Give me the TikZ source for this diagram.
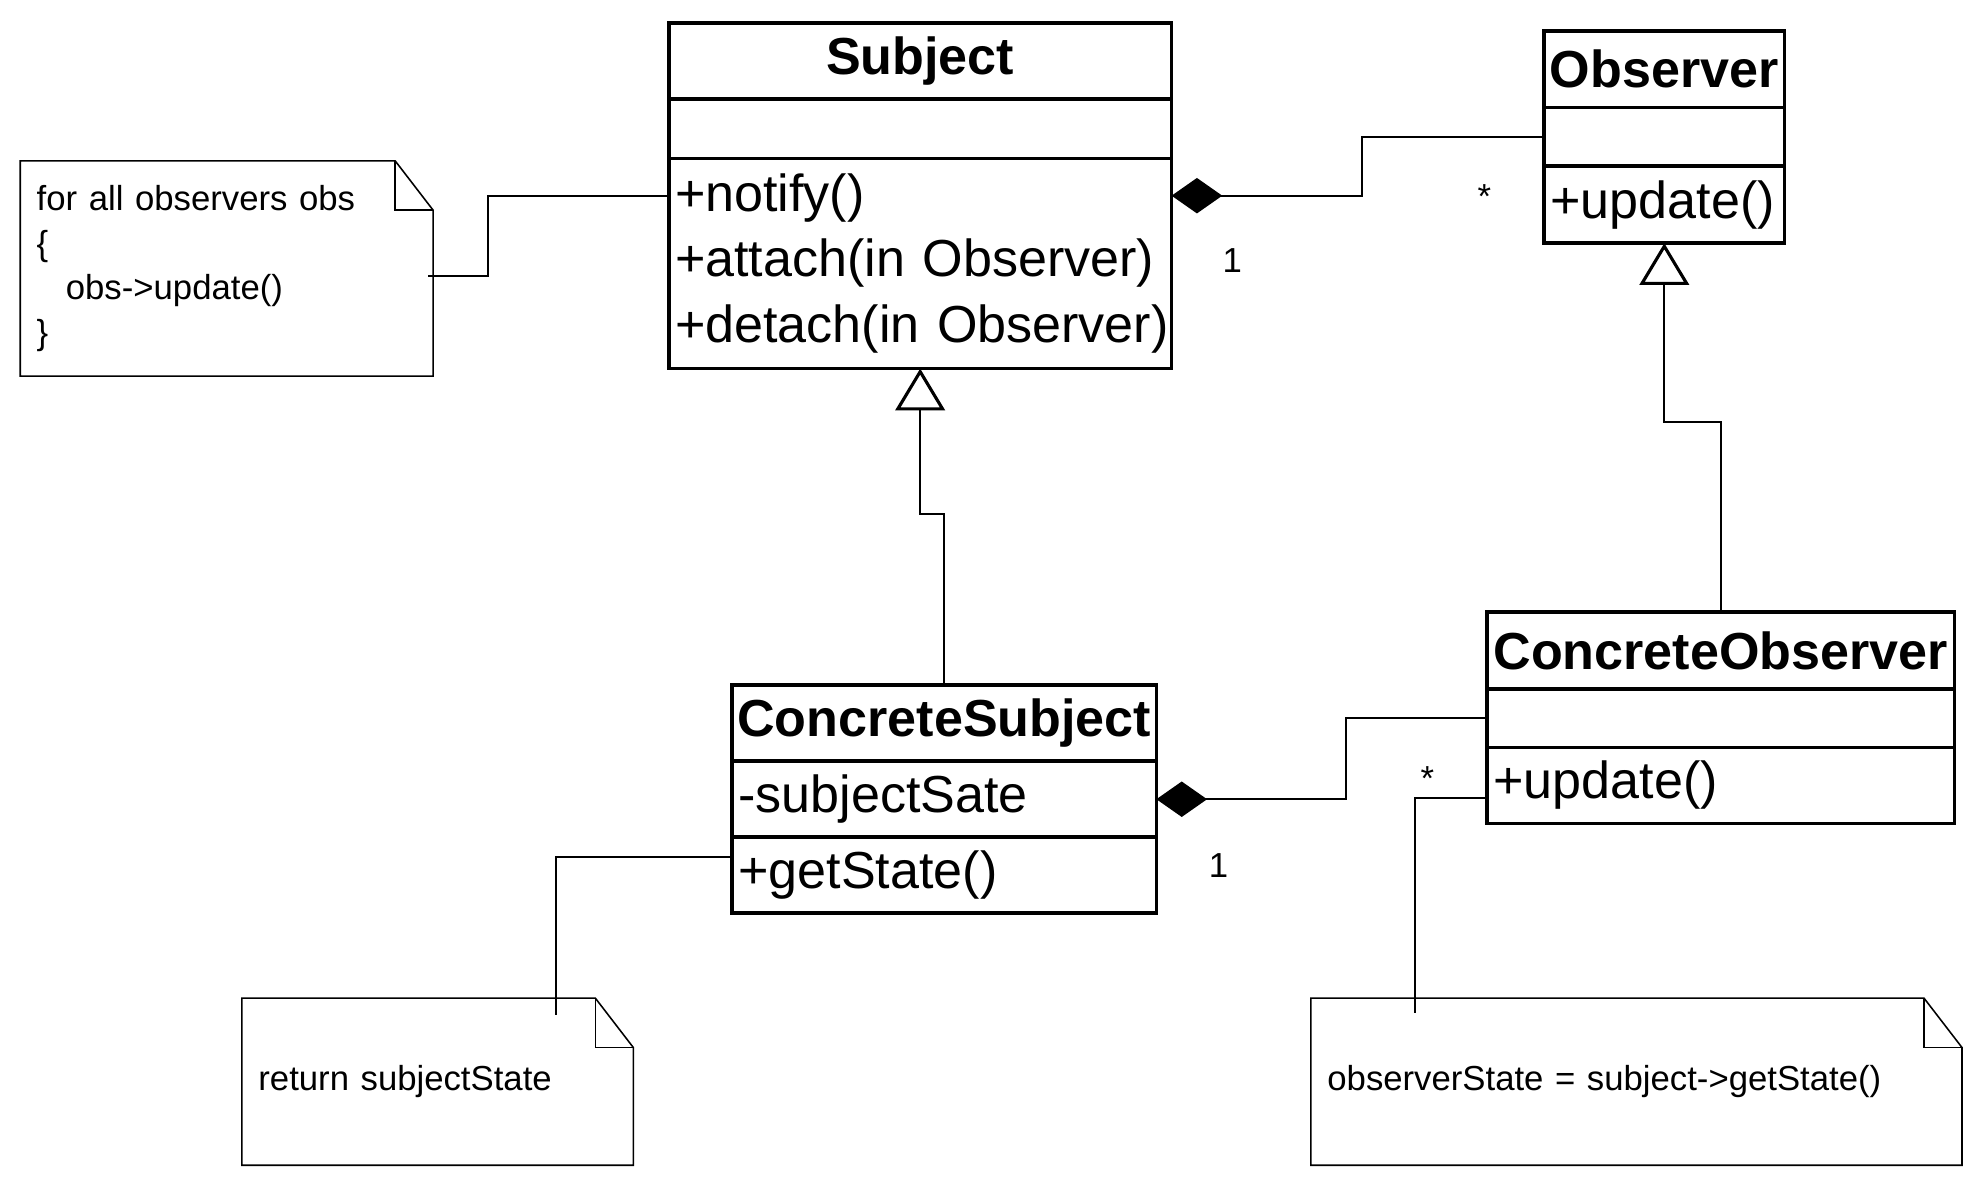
\documentclass[tikz,border=0pt]{standalone}
\usepackage{fontspec}
\setmainfont{Liberation Sans}
\usepackage{tikz}
\usetikzlibrary{arrows.meta,positioning,calc}
\tikzset{
  cls/.style={draw,line width=0.8pt,anchor=north west,inner sep=0pt,outer sep=0pt,font=\fontsize{11.7pt}{14.8pt}\selectfont},
  chead/.style={cls,font=\fontsize{11.7pt}{14.8pt}\selectfont\bfseries},
  cmem/.style={cls,align=left,inner xsep=0.05cm},
  notebox/.style={anchor=north west,inner xsep=0.13cm,inner ysep=0pt,outer sep=0pt,align=left,font=\fontsize{7.8pt}{10pt}\selectfont},
  noteline/.style={line width=0.35pt},
  link/.style={line width=0.45pt},
  compo/.style={link,{Diamond[length=0.40cm,width=0.28cm]}-},
  inherit/.style={link,-{Triangle[open,length=0.33cm,width=0.39cm,line width=0.7pt]}},
  mult/.style={font=\fontsize{7.8pt}{10pt}\selectfont,inner sep=0pt},
}
\begin{document}
\begin{tikzpicture}[x=1cm,y=1cm]
  \useasboundingbox (0,0) rectangle (15.68,-9.38);
  % classes
  \node[chead,minimum width=3.97cm,minimum height=0.60cm] (subjt) at (5.28,-0.18) {Subject};
  \node[cmem,minimum width=3.97cm,minimum height=0.47cm] (subja) at (subjt.south west) {};
  \node[cmem,text width=3.87cm,minimum height=1.66cm] (subjm) at (subja.south west) {+notify()\\\mbox{+attach(in Observer)}\\\mbox{+detach(in Observer)}};
  \node[chead,minimum width=1.90cm,minimum height=0.605cm] (obst) at (12.19,-0.245) {Observer};
  \node[cmem,minimum width=1.90cm,minimum height=0.46cm] (obsa) at (obst.south west) {};
  \node[cmem,text width=1.80cm,minimum height=0.61cm] (obsm) at (obsa.south west) {\mbox{+update()}};
  \node[chead,minimum width=3.35cm,minimum height=0.60cm] (cst) at (5.78,-5.41) {ConcreteSubject};
  \node[cmem,text width=3.25cm,minimum height=0.60cm] (csa) at (cst.south west) {-subjectSate};
  \node[cmem,text width=3.25cm,minimum height=0.60cm] (csm) at (csa.south west) {+getState()};
  \node[chead,minimum width=3.69cm,minimum height=0.61cm] (cot) at (11.74,-4.83) {ConcreteObserver};
  \node[cmem,minimum width=3.69cm,minimum height=0.46cm] (coa) at (cot.south west) {};
  \node[cmem,text width=3.59cm,minimum height=0.60cm] (com) at (coa.south west) {+update()};
  % notes
  \node[notebox,minimum width=3.26cm,minimum height=1.70cm,text width=3.00cm] (n1) at (0.16,-1.27) {for all observers obs\\\{\\\hspace*{0.23cm}obs->update()\\\}};
  \node[notebox,minimum width=3.09cm,minimum height=1.32cm,text width=2.83cm] (n2) at (1.91,-7.88) {return subjectState};
  \node[notebox,minimum width=5.14cm,minimum height=1.32cm,text width=4.88cm] (n3) at (10.35,-7.88) {observerState = subject->getState()};
  \foreach \n in {n1,n2,n3}{
    \draw[noteline] (\n.north west) -- ($(\n.north east)+(-0.30,0)$) -- ($(\n.north east)+(0,-0.39)$) -- (\n.south east) -- (\n.south west) -- cycle;
    \draw[noteline] ($(\n.north east)+(-0.30,0)$) |- ($(\n.north east)+(0,-0.39)$);
  }
  % connectors
  \coordinate (n1p) at ($(n1.east)+(-0.04,-0.06)$);
  \coordinate (notifyp) at ($(subjm.north west)+(0,-0.30)$);
  \draw[link] (n1p) -- ++(0.47,0) |- (notifyp);
  \coordinate (subjd) at ($(subjm.north east)+(0,-0.295)$);
  \draw[compo] (subjd) -- ++(1.50,0) |- (obsa.west);
  \draw[inherit] (cst.north) -- ++(0,1.35) -| (subjm.south);
  \draw[inherit] (cot.north) -- ++(0,1.50) -| (obsm.south);
  \draw[compo] (csa.east) -- ++(1.50,0) |- (coa.west);
  \coordinate (getp) at ($(csm.north west)+(0,-0.16)$);
  \coordinate (n2p) at ($(n2.north west)+(2.48,-0.13)$);
  \draw[link] (getp) -| (n2p);
  \coordinate (updp) at ($(com.north west)+(0,-0.40)$);
  \coordinate (n3p) at ($(n3.north west)+(0.82,-0.12)$);
  \draw[link] (updp) -| (n3p);
  % multiplicities
  \node[mult] (m1) at (11.72,-1.55) {*};
  \node[mult] (m2) at (9.73,-2.06) {1};
  \node[mult] (m3) at (9.62,-6.83) {1};
  \node[mult] (m4) at (11.27,-6.15) {*};
\end{tikzpicture}
\end{document}
